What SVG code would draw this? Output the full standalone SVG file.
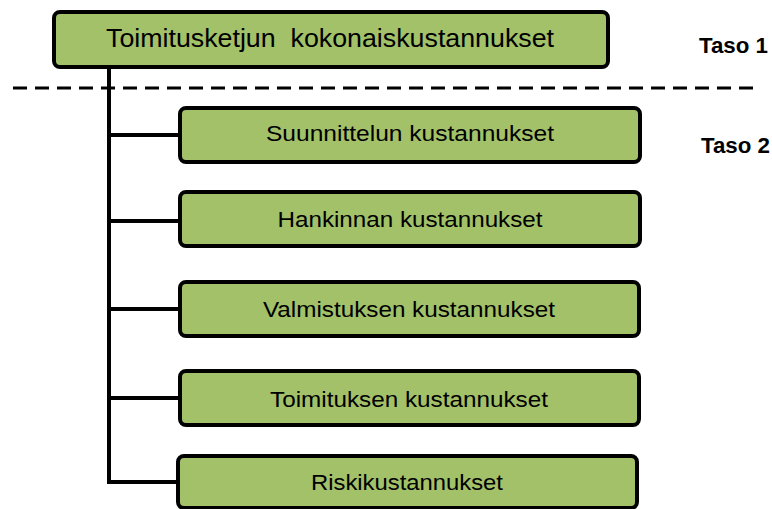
<svg xmlns="http://www.w3.org/2000/svg" width="772" height="509" viewBox="0 0 772 509">
<style>
.box{fill:#A3C168;stroke:#000;stroke-width:4}
.t{font-family:"Liberation Sans",Arial,sans-serif;fill:#000;text-anchor:middle}
.lbl{font-size:21.5px}
.main{font-size:25px}
.taso{font-family:"Liberation Sans",Arial,sans-serif;font-weight:bold;font-size:22px;fill:#000}
.ln{stroke:#000;stroke-width:4;fill:none}
</style>
<rect width="772" height="509" fill="#fff"/>
<g id="connectors">
<line class="ln" x1="109" y1="67" x2="109" y2="484"/>
<line class="ln" x1="109" y1="135" x2="180" y2="135"/>
<line class="ln" x1="109" y1="221" x2="180" y2="221"/>
<line class="ln" x1="109" y1="309" x2="180" y2="309"/>
<line class="ln" x1="109" y1="398" x2="180" y2="398"/>
<line class="ln" x1="107" y1="482" x2="178" y2="482"/>
<line x1="13" y1="88" x2="755" y2="88" stroke="#000" stroke-width="3" stroke-dasharray="14 8"/>
</g>
<g id="top">
<rect class="box" x="54" y="12" width="554" height="55" rx="6"/>
<text class="t main" x="330" y="47" textLength="448" lengthAdjust="spacingAndGlyphs">Toimitusketjun&#160; kokonaiskustannukset</text>
</g>
<g id="n1">
<rect class="box" x="180" y="108" width="460" height="54" rx="6"/>
<text class="t lbl" x="410" y="141" textLength="288" lengthAdjust="spacingAndGlyphs">Suunnittelun kustannukset</text>
</g>
<g id="n2">
<rect class="box" x="180" y="192" width="460" height="54" rx="6"/>
<text class="t lbl" x="410" y="227" textLength="265" lengthAdjust="spacingAndGlyphs">Hankinnan kustannukset</text>
</g>
<g id="n3">
<rect class="box" x="180" y="282" width="459" height="54" rx="6"/>
<text class="t lbl" x="409" y="317" textLength="292" lengthAdjust="spacingAndGlyphs">Valmistuksen kustannukset</text>
</g>
<g id="n4">
<rect class="box" x="180" y="371" width="459" height="54" rx="6"/>
<text class="t lbl" x="409" y="407" textLength="278" lengthAdjust="spacingAndGlyphs">Toimituksen kustannukset</text>
</g>
<g id="n5">
<rect class="box" x="178" y="456" width="459" height="52" rx="6"/>
<text class="t lbl" x="407" y="490" textLength="192" lengthAdjust="spacingAndGlyphs">Riskikustannukset</text>
</g>
<g id="levels">
<text class="taso" x="699" y="53" textLength="69" lengthAdjust="spacingAndGlyphs">Taso 1</text>
<text class="taso" x="701" y="153" textLength="69" lengthAdjust="spacingAndGlyphs">Taso 2</text>
</g>
</svg>
